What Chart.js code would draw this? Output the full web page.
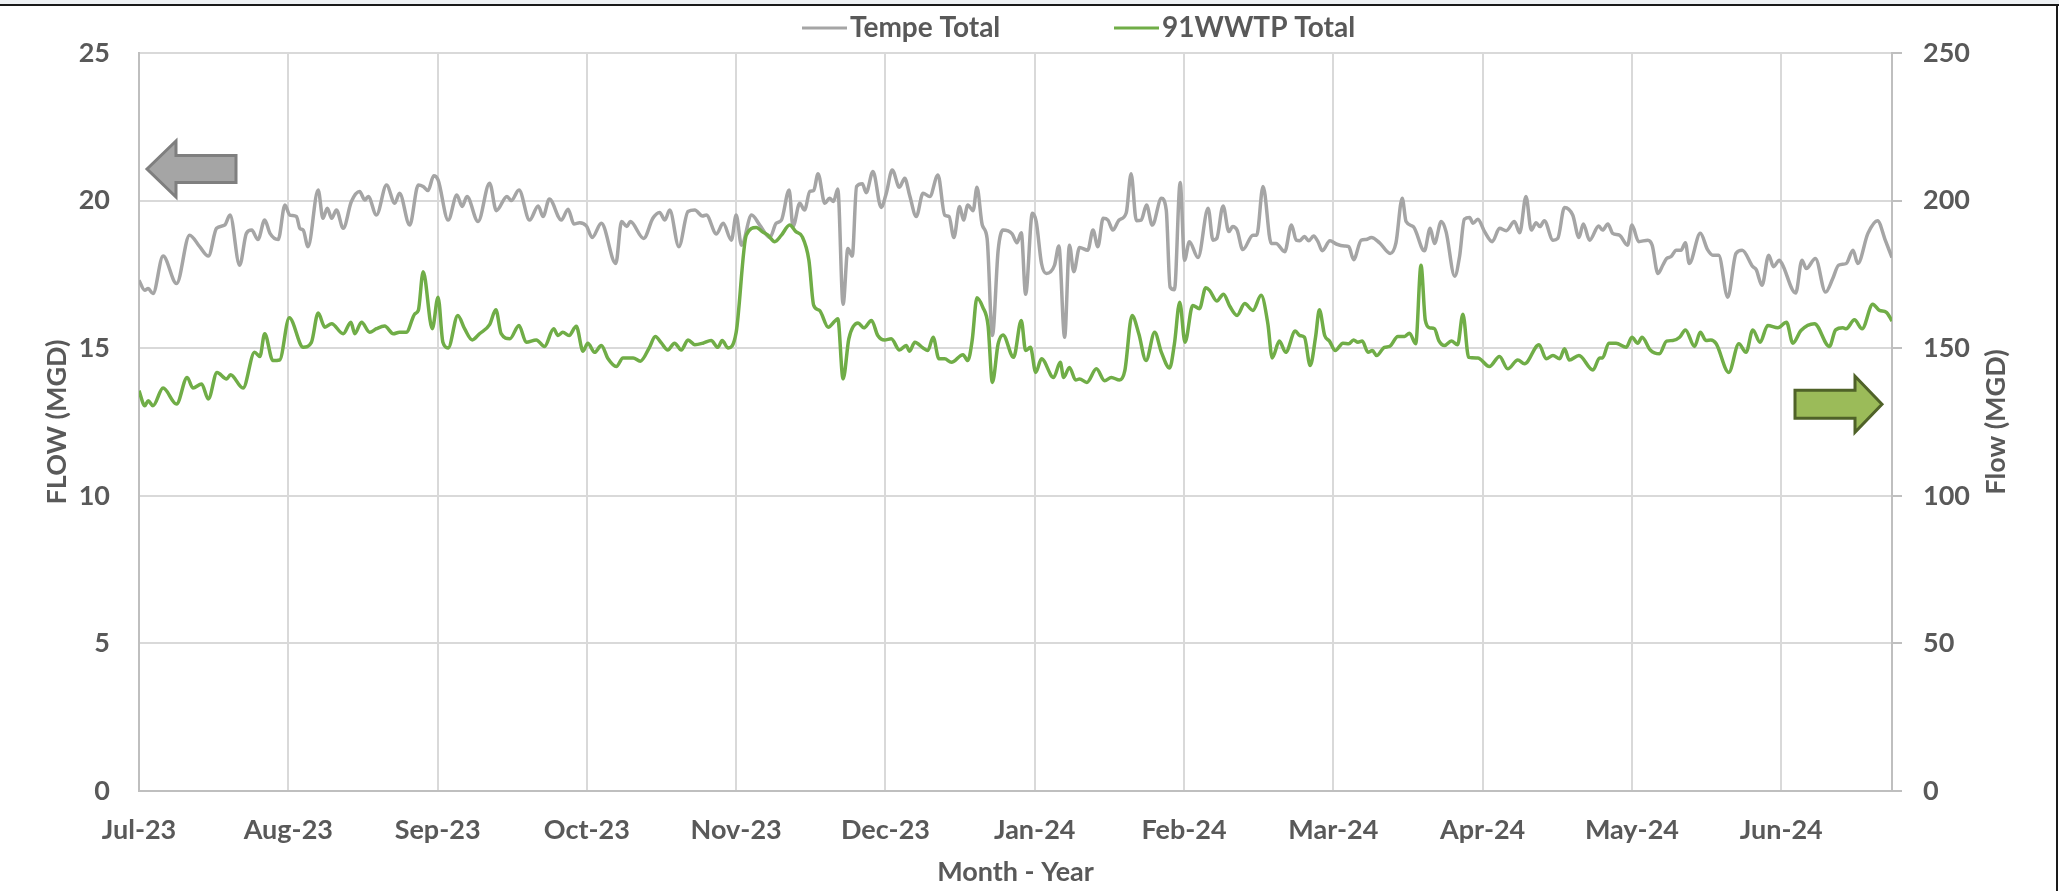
<!DOCTYPE html>
<html>
<head>
<meta charset="utf-8">
<title>Tempe Total / 91WWTP Total</title>
<script src="https://cdn.jsdelivr.net/npm/chart.js@4.4.1/dist/chart.umd.min.js"></script>
<style>
    html, body { margin: 0; padding: 0; background: #fff; }
    canvas { display: block; }
</style>
</head>
<body>
<canvas id="flow" width="2059" height="891"></canvas>
<script>
// month labels sit on every 31st daily point
var monthLabels = ['Jul-23', 'Aug-23', 'Sep-23', 'Oct-23', 'Nov-23', 'Dec-23',
                   'Jan-24', 'Feb-24', 'Mar-24', 'Apr-24', 'May-24', 'Jun-24'];
var monthTicks = [0, 31, 62, 93, 124, 155, 186, 217, 248, 279, 310, 341];
var lastDay = 364;

var leftTicks = [0, 5, 10, 15, 20, 25];
var rightTicks = [0, 50, 100, 150, 200, 250];

// Tempe Total (left axis, MGD) - day index / value
var tempeDays = [0, 1.2, 1.9, 2.9, 5.0, 7.8, 10.5, 12.6, 14.4, 16.1, 17.8, 18.9, 20.9, 22.3, 23.4, 24.7, 26.1, 27.2, 28.9, 30.3,
    31.3, 32.7, 33.4, 34.1, 35.1, 37.2, 38.2, 39.1, 40.0, 41.0, 42.4, 44.1, 45.8, 46.9, 47.6, 49.3, 51.4, 53.1, 54.1, 56.2,
    58.0, 59.0, 60.0, 61.2, 62.1, 64.2, 66.0, 67.1, 68.1, 70.4, 72.8, 74.2, 76.4, 77.3, 78.9, 81.1, 82.9, 83.9, 85.2, 87.7,
    89.1, 90.3, 91.5, 92.9, 94.1, 96.0, 99.0, 100.2, 101.3, 102.0, 104.8, 106.7, 108.1, 109.2, 110.2, 112.1, 114.0, 115.4, 117.0, 117.8,
    119.9, 121.3, 123.0, 124.0, 125.1, 127.2, 128.9, 131.0, 132.3, 133.4, 135.0, 135.8, 137.2, 138.2, 139.3, 140.1, 141.0, 142.4, 143.4, 144.2,
    145.1, 146.2, 147.2, 148.1, 149.0, 150.2, 151.0, 152.4, 154.1, 155.2, 156.4, 157.9, 159.0, 160.0, 161.4, 162.8, 164.2, 165.9, 167.3, 168.2,
    169.2, 170.4, 171.2, 172.1, 173.2, 174.0, 175.1, 176.1, 177.2, 178.4, 179.4, 181.3, 182.3, 183.2, 184.1, 185.5, 186.3, 187.4, 188.4, 190.1,
    191.0, 192.2, 193.2, 194.1, 195.3, 197.0, 198.1, 199.1, 200.2, 201.2, 202.2, 203.5, 205.0, 206.0, 207.1, 208.1, 209.2, 210.4, 212.3, 213.3,
    214.1, 215.0, 216.2, 217.1, 218.1, 219.9, 222.0, 223.0, 223.8, 225.1, 226.3, 227.1, 228.0, 229.2, 231.3, 232.1, 233.4, 235.1, 236.1, 237.9,
    239.3, 240.3, 241.0, 242.0, 242.9, 243.9, 244.8, 245.7, 247.3, 248.6, 250.3, 251.2, 252.2, 253.8, 254.8, 255.9, 257.6, 259.8, 261.0, 262.3,
    263.1, 264.6, 266.9, 268.1, 269.0, 270.4, 271.4, 273.2, 274.2, 275.2, 276.3, 277.0, 278.0, 279.4, 281.0, 282.5, 283.9, 285.6, 286.7, 288.0,
    289.1, 290.1, 290.9, 291.8, 293.6, 294.6, 296.0, 297.7, 299.0, 299.9, 301.2, 303.1, 303.9, 305.0, 306.0, 307.4, 309.1, 310.0, 311.4, 313.3,
    314.2, 315.4, 316.4, 317.2, 318.1, 319.2, 320.2, 321.1, 321.9, 324.2, 325.7, 326.8, 328.0, 329.9, 331.6, 332.9, 335.1, 335.8, 337.0, 338.4,
    339.4, 340.6, 341.2, 344.0, 345.3, 346.2, 348.1, 350.2, 351.7, 352.9, 354.5, 355.9, 356.9, 359.0, 361.0, 362.6, 364.0];
var tempeFlow = [17.30, 16.96, 17.02, 16.85, 18.12, 17.19, 18.83, 18.44, 18.12, 19.06, 19.17, 19.51, 17.81, 18.89, 19.00, 18.68, 19.34, 18.89, 18.68, 19.85,
    19.51, 19.46, 19.06, 19.00, 18.44, 20.36, 19.40, 19.74, 19.40, 19.68, 19.06, 19.97, 20.31, 20.02, 20.14, 19.51, 20.53, 19.91, 20.25, 19.17,
    20.53, 20.48, 20.34, 20.84, 20.70, 19.34, 20.19, 19.80, 20.14, 19.29, 20.59, 19.66, 20.14, 20.00, 20.36, 19.34, 19.82, 19.46, 20.05, 19.34,
    19.71, 19.21, 19.25, 19.14, 18.75, 19.23, 17.87, 19.29, 19.12, 19.29, 18.72, 19.40, 19.60, 19.34, 19.68, 18.44, 19.63, 19.68, 19.48, 19.51,
    18.87, 19.23, 18.66, 19.51, 18.49, 19.51, 19.17, 18.75, 19.23, 19.34, 20.36, 19.12, 19.91, 19.68, 20.31, 20.34, 20.91, 19.91, 20.08, 19.97,
    20.39, 16.49, 18.38, 18.12, 20.48, 20.57, 20.27, 20.99, 19.77, 20.27, 21.04, 20.45, 20.76, 20.19, 19.46, 20.25, 20.14, 20.87, 19.51, 19.46,
    18.75, 19.80, 19.34, 19.85, 19.66, 20.45, 19.17, 18.72, 15.43, 18.32, 19.00, 18.87, 18.57, 18.91, 16.83, 19.57, 19.29, 17.87, 17.53, 17.81,
    18.46, 15.37, 18.49, 17.59, 18.41, 18.32, 19.00, 18.44, 19.40, 19.34, 19.00, 19.34, 19.59, 20.91, 19.32, 19.34, 19.85, 19.17, 20.08, 19.68,
    17.07, 16.98, 20.61, 17.98, 18.61, 18.07, 19.74, 18.66, 18.72, 19.82, 18.95, 19.12, 19.00, 18.34, 18.83, 18.83, 20.48, 18.55, 18.55, 18.27,
    19.17, 18.66, 18.64, 18.78, 18.64, 18.80, 18.61, 18.30, 18.64, 18.53, 18.46, 18.44, 18.00, 18.66, 18.68, 18.75, 18.57, 18.21, 18.57, 20.08,
    19.29, 19.12, 18.30, 19.06, 18.55, 19.29, 18.95, 17.44, 18.10, 19.37, 19.43, 19.23, 19.37, 18.95, 18.61, 19.06, 18.98, 19.29, 18.91, 20.14,
    19.00, 19.25, 19.12, 19.32, 18.66, 18.72, 19.77, 19.51, 18.75, 19.21, 18.66, 19.14, 19.00, 19.21, 18.89, 18.83, 18.49, 19.17, 18.61, 18.66,
    18.49, 17.53, 17.81, 18.04, 18.10, 18.32, 18.32, 18.57, 17.87, 18.89, 18.34, 18.15, 18.15, 16.73, 18.21, 18.32, 17.76, 17.66, 17.13, 18.15,
    17.76, 17.98, 17.85, 16.87, 17.98, 17.70, 18.04, 16.90, 17.36, 17.81, 17.87, 18.32, 17.87, 18.89, 19.32, 18.66, 18.07];

// 91WWTP Total (right axis, MGD) - day index / value
var wwtpDays = [0, 1.2, 1.9, 2.9, 5.0, 7.8, 10.0, 11.2, 13.0, 14.4, 16.2, 18.2, 19.0, 21.6, 24.0, 25.1, 26.1, 27.8, 29.2, 31.2,
    34.1, 35.8, 37.2, 38.6, 40.0, 42.4, 44.0, 44.8, 46.2, 47.9, 49.3, 51.0, 52.8, 54.1, 55.5, 57.3, 58.0, 59.0, 60.9, 62.1,
    63.1, 64.2, 66.2, 67.6, 69.2, 70.7, 72.8, 74.1, 75.2, 77.0, 78.9, 80.4, 82.5, 84.2, 86.1, 87.0, 88.0, 89.3, 90.8, 92.2,
    93.2, 94.6, 96.0, 97.4, 99.1, 100.5, 102.6, 104.1, 106.0, 107.2, 108.5, 109.8, 111.2, 112.6, 114.0, 115.4, 117.1, 118.8, 120.2, 121.1,
    122.3, 124.0, 126.1, 128.2, 129.4, 130.6, 132.0, 133.4, 135.1, 136.4, 137.7, 139.1, 140.1, 141.3, 143.1, 144.5, 145.1, 146.2, 147.4, 149.3,
    150.5, 152.1, 153.4, 154.8, 156.2, 157.9, 159.3, 160.0, 161.1, 162.8, 163.8, 164.9, 166.1, 167.3, 168.7, 171.1, 172.1, 173.0, 174.0, 175.2,
    176.3, 177.2, 178.4, 179.4, 181.6, 183.2, 184.1, 185.1, 186.2, 187.4, 189.9, 191.3, 192.0, 193.2, 194.5, 195.3, 196.8, 198.8, 200.5, 201.9,
    203.6, 204.7, 206.2, 207.6, 209.1, 210.9, 212.3, 214.0, 215.0, 216.1, 217.2, 218.8, 220.2, 221.5, 222.3, 223.8, 225.2, 226.5, 228.0, 229.6,
    231.3, 233.0, 234.4, 235.3, 236.8, 238.1, 240.1, 241.0, 242.0, 243.2, 244.3, 245.1, 246.2, 247.2, 248.4, 250.0, 251.2, 252.2, 253.1, 254.0,
    255.2, 256.1, 257.0, 258.6, 259.7, 261.4, 262.8, 263.8, 265.1, 266.2, 267.1, 268.0, 269.0, 269.9, 271.1, 272.5, 273.8, 274.9, 276.1, 278.0,
    280.4, 282.5, 284.2, 286.3, 287.7, 290.7, 292.2, 293.6, 295.0, 296.0, 297.0, 299.0, 301.9, 303.3, 303.9, 305.2, 306.7, 308.8, 310.0, 311.2,
    312.1, 313.8, 315.7, 317.2, 318.5, 319.9, 321.1, 323.0, 324.2, 325.4, 326.4, 327.5, 330.1, 332.2, 333.7, 335.1, 336.6, 338.2, 340.3, 342.1,
    343.4, 345.1, 347.9, 351.0, 352.3, 353.8, 354.5, 356.2, 357.8, 360.0, 361.4, 362.8, 364.0];
var wwtpFlow = [135.6, 130.5, 132.2, 130.5, 136.5, 131.1, 140.1, 136.5, 137.9, 132.8, 141.8, 139.6, 141.0, 136.5, 148.6, 147.2, 154.9, 145.8, 146.0, 160.3,
    150.3, 152.0, 161.9, 157.1, 158.3, 154.9, 158.8, 154.9, 158.8, 155.4, 156.6, 157.5, 154.9, 155.4, 155.4, 161.7, 162.8, 175.9, 156.6, 167.3,
    152.0, 150.1, 161.1, 156.6, 152.8, 154.9, 158.0, 163.0, 154.9, 153.2, 157.7, 152.0, 152.8, 150.6, 156.6, 154.3, 155.4, 154.3, 157.4, 149.0,
    151.7, 148.6, 150.9, 146.4, 143.8, 146.7, 146.7, 145.6, 150.3, 154.0, 151.7, 149.4, 151.7, 149.4, 152.8, 151.2, 151.7, 152.6, 150.3, 152.6,
    150.1, 155.4, 188.3, 190.9, 189.5, 188.3, 186.1, 188.3, 191.7, 189.5, 187.8, 179.8, 164.5, 162.8, 157.1, 159.2, 160.0, 139.6, 153.2, 158.5,
    156.9, 159.4, 154.3, 152.8, 153.2, 149.4, 150.9, 149.0, 152.0, 150.1, 149.2, 153.7, 146.4, 146.4, 145.2, 147.8, 145.8, 152.6, 167.1, 163.9,
    157.7, 138.4, 151.5, 154.5, 146.9, 159.4, 149.2, 150.3, 141.8, 146.4, 140.1, 145.2, 140.1, 143.5, 139.2, 139.6, 138.4, 143.0, 139.0, 140.1,
    139.2, 142.4, 161.1, 154.9, 145.8, 155.4, 148.6, 143.3, 151.5, 165.6, 152.0, 164.5, 163.4, 170.5, 169.6, 166.0, 168.3, 164.2, 161.1, 165.1,
    162.8, 167.9, 158.3, 146.7, 152.4, 148.6, 155.8, 154.3, 153.7, 144.1, 153.7, 163.0, 154.3, 152.4, 149.2, 151.7, 151.5, 152.8, 152.0, 152.4,
    148.6, 149.2, 147.5, 150.3, 150.6, 154.0, 154.0, 155.1, 151.5, 178.1, 159.4, 156.9, 156.6, 152.6, 150.9, 152.4, 151.2, 161.5, 146.9, 146.7,
    143.8, 147.2, 143.0, 146.0, 144.7, 151.2, 146.4, 147.5, 146.4, 149.8, 146.0, 147.5, 142.6, 146.7, 146.7, 151.7, 151.7, 150.3, 153.7, 151.7,
    153.7, 149.4, 148.1, 152.4, 152.6, 153.7, 156.2, 150.6, 155.4, 152.6, 152.8, 151.5, 141.8, 151.5, 148.6, 156.2, 152.0, 157.7, 156.9, 158.8,
    151.7, 156.0, 158.3, 150.6, 156.2, 156.9, 156.6, 159.6, 156.6, 164.9, 162.8, 162.2, 159.2];

var textColor = '#595959';
var fontFamily = 'Lato, "Open Sans", sans-serif';

function toPoints(days, values) {
    return days.map(function (d, i) {
        return { x: d, y: values[i] };
    });
}

function fixedTicks(values) {
    return function (axis) {
        axis.ticks = values.map(function (v) { return { value: v }; });
    };
}

// white page, thin frame on top and right like the source
var framePlugin = {
    id: 'frame',
    beforeDraw: function (chart) {
        var ctx = chart.ctx;
        ctx.save();
        ctx.fillStyle = '#ffffff';
        ctx.fillRect(0, 0, chart.width, chart.height);
        ctx.fillStyle = '#eef1f4';
        ctx.fillRect(0, 0, chart.width, 4);
        ctx.fillStyle = '#1a1a1a';
        ctx.fillRect(0, 4, chart.width, 2);
        ctx.fillRect(chart.width - 3, 4, 2, chart.height - 4);
        ctx.restore();
    }
};

function arrow(ctx, tipX, y, headX, endX, headHalf, shaftHalf, fill, stroke) {
    ctx.beginPath();
    ctx.moveTo(tipX, y);
    ctx.lineTo(headX, y - headHalf);
    ctx.lineTo(headX, y - shaftHalf);
    ctx.lineTo(endX, y - shaftHalf);
    ctx.lineTo(endX, y + shaftHalf);
    ctx.lineTo(headX, y + shaftHalf);
    ctx.lineTo(headX, y + headHalf);
    ctx.closePath();
    ctx.fillStyle = fill;
    ctx.fill();
    ctx.lineWidth = 3;
    ctx.strokeStyle = stroke;
    ctx.lineJoin = 'miter';
    ctx.stroke();
}

// legend, right-hand title and the two axis arrows
var extrasPlugin = {
    id: 'extras',
    afterDraw: function (chart) {
        var ctx = chart.ctx;
        var area = chart.chartArea;
        var ds = chart.data.datasets;
        var legendX = [802, 1114];
        var legendY = 28;

        ctx.save();
        ctx.font = 'bold 28px ' + fontFamily;
        ctx.textBaseline = 'middle';
        ctx.textAlign = 'left';
        ds.forEach(function (d, i) {
            ctx.strokeStyle = d.borderColor;
            ctx.lineWidth = 3;
            ctx.beginPath();
            ctx.moveTo(legendX[i], legendY);
            ctx.lineTo(legendX[i] + 45, legendY);
            ctx.stroke();
            ctx.fillStyle = textColor;
            ctx.fillText(d.label, legendX[i] + 48, legendY);
        });

        ctx.font = 'bold 27px ' + fontFamily;
        ctx.textAlign = 'center';
        ctx.translate(1996, (area.top + area.bottom) / 2);
        ctx.rotate(-Math.PI / 2);
        ctx.fillText('Flow (MGD)', 0, 0);
        ctx.restore();

        ctx.save();
        var yLeft = chart.scales.y.getPixelForValue(21.07);
        arrow(ctx, area.left + 8, yLeft, area.left + 37, area.left + 97, 28, 13.5, '#a5a5a5', '#7f7f7f');
        var yRight = chart.scales.y1.getPixelForValue(131);
        arrow(ctx, area.right - 10, yRight, area.right - 37, area.right - 97, 28, 14, '#9bbb59', '#4f6228');
        ctx.restore();
    }
};

Chart.defaults.font.family = fontFamily;
Chart.defaults.font.weight = 'bold';
Chart.defaults.font.size = 27;
Chart.defaults.color = textColor;

var chart = new Chart(document.getElementById('flow'), {
    type: 'line',
    data: {
        datasets: [{
            label: 'Tempe Total',
            data: toPoints(tempeDays, tempeFlow),
            borderColor: '#a5a5a5',
            borderWidth: 3.5,
            pointRadius: 0,
            cubicInterpolationMode: 'monotone',
            yAxisID: 'y',
            order: 1
        }, {
            label: '91WWTP Total',
            data: toPoints(wwtpDays, wwtpFlow),
            borderColor: '#70ad47',
            borderWidth: 3.5,
            pointRadius: 0,
            cubicInterpolationMode: 'monotone',
            yAxisID: 'y1',
            order: 0
        }]
    },
    options: {
        responsive: false,
        devicePixelRatio: 1,
        animation: false,
        layout: { padding: { top: 53, left: 0, right: 0, bottom: 0 } },
        plugins: {
            legend: { display: false },
            tooltip: { enabled: false }
        },
        scales: {
            x: {
                type: 'linear',
                min: 0,
                max: lastDay,
                afterBuildTicks: fixedTicks(monthTicks),
                afterFit: function (s) { s.height = 100; },
                grid: { color: '#d9d9d9', lineWidth: 2, drawTicks: false },
                border: { color: '#bfbfbf', width: 2 },
                ticks: {
                    padding: 23,
                    maxRotation: 0,
                    callback: function (v, i) { return monthLabels[i]; }
                },
                title: {
                    display: true,
                    text: 'Month - Year',
                    padding: { top: 0, bottom: 3 }
                }
            },
            y: {
                position: 'left',
                min: 0,
                max: 25,
                afterBuildTicks: fixedTicks(leftTicks),
                afterFit: function (s) { s.width = 139; },
                grid: { color: '#d9d9d9', lineWidth: 2, drawTicks: false },
                border: { color: '#bfbfbf', width: 2 },
                ticks: { padding: 29 },
                title: {
                    display: true,
                    text: 'FLOW (MGD)',
                    padding: { top: 41, bottom: 0 }
                }
            },
            y1: {
                position: 'right',
                min: 0,
                max: 250,
                afterBuildTicks: fixedTicks(rightTicks),
                afterFit: function (s) { s.width = 167; },
                grid: { drawOnChartArea: false, color: '#bfbfbf', lineWidth: 2, tickLength: 10 },
                border: { color: '#bfbfbf', width: 2 },
                ticks: { padding: 21 }
            }
        }
    },
    plugins: [framePlugin, extrasPlugin]
});
</script>
</body>
</html>
